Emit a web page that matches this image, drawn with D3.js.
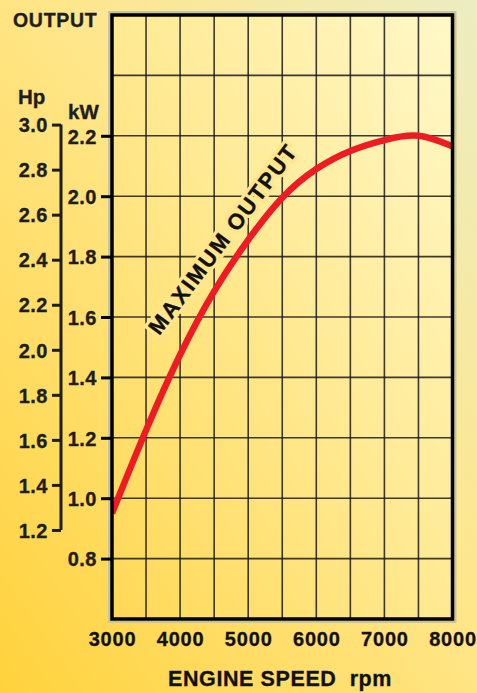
<!DOCTYPE html>
<html lang="en">
<head>
<meta charset="UTF-8">
<title>Engine Output</title>
<script src="https://d3js.org/d3.v7.min.js"></script>
<style>
  html, body { margin: 0; padding: 0; }
  body { width: 477px; height: 693px; overflow: hidden; }
  svg text { font-family: "Liberation Sans", Arial, sans-serif; font-weight: bold; fill: #1e1e1e; stroke: #1e1e1e; stroke-width: 0.35px; }
  svg text.halo { fill: #ffe68c; stroke: #ffe68c; stroke-width: 7px; }
  svg text.label { fill: #111; stroke: #111; stroke-width: 0.4px; }
</style>
</head>
<body>
<div id="chart"></div>
<script>
// engine speed (rpm) vs maximum output (kW)
const rpm = [3000, 3500, 4000, 4500, 5000, 5500, 6000, 6500, 7000, 7500, 8000];
const outputKw = [0.95, 1.225, 1.475, 1.685, 1.855, 1.995, 2.09, 2.15, 2.186, 2.20, 2.165];

const xTicks = [3000, 4000, 5000, 6000, 7000, 8000];
const kwTicks = [0.8, 1.0, 1.2, 1.4, 1.6, 1.8, 2.0, 2.2];
const hpTicks = [1.2, 1.4, 1.6, 1.8, 2.0, 2.2, 2.4, 2.6, 2.8, 3.0];
const HP_TO_KW = 0.7457;

const W = 477, H = 693;
const plot = { left: 112, right: 452.5, top: 15, bottom: 619 };

const svg = d3.select("#chart").append("svg")
  .attr("width", W).attr("height", H);

const defs = svg.append("defs");
const bg = defs.append("linearGradient").attr("id", "bg")
  .attr("x1", 0).attr("y1", 1).attr("x2", 1).attr("y2", 0);
bg.append("stop").attr("offset", 0).attr("stop-color", "#ffd23c");
bg.append("stop").attr("offset", 0.55).attr("stop-color", "#ffe68a");
bg.append("stop").attr("offset", 1).attr("stop-color", "#ebedc2");

const pg = defs.append("linearGradient").attr("id", "pg")
  .attr("x1", 0).attr("y1", 1).attr("x2", 1).attr("y2", 0);
pg.append("stop").attr("offset", 0).attr("stop-color", "#ffd855");
pg.append("stop").attr("offset", 0.55).attr("stop-color", "#ffeb98");
pg.append("stop").attr("offset", 1).attr("stop-color", "#fff8c8");

defs.append("clipPath").attr("id", "clip").append("rect")
  .attr("x", plot.left).attr("y", plot.top)
  .attr("width", plot.right - plot.left).attr("height", plot.bottom - plot.top);

svg.append("rect").attr("width", W).attr("height", H).attr("fill", "url(#bg)");

const x = d3.scaleLinear().domain([3000, 8000]).range([plot.left, plot.right]);
const y = d3.scaleLinear().domain([0.6, 2.6]).range([plot.bottom, plot.top]);

// plot background + faint shadow edge
svg.append("rect")
  .attr("x", plot.left).attr("y", plot.top)
  .attr("width", plot.right - plot.left).attr("height", plot.bottom - plot.top)
  .attr("fill", "none").attr("stroke", "#c8c49c").attr("stroke-width", 8);
svg.append("rect")
  .attr("x", plot.left).attr("y", plot.top)
  .attr("width", plot.right - plot.left).attr("height", plot.bottom - plot.top)
  .attr("fill", "url(#pg)");

// grid
const grid = svg.append("g").attr("stroke", "#1a1a1a").attr("stroke-width", 1.6).attr("stroke-opacity", 0.85);
grid.selectAll("line.v").data(d3.range(3500, 8000, 500)).join("line")
  .attr("x1", d => x(d)).attr("x2", d => x(d))
  .attr("y1", plot.top).attr("y2", plot.bottom);
grid.selectAll("line.h").data(d3.range(0.8, 2.5, 0.2)).join("line")
  .attr("x1", plot.left).attr("x2", plot.right)
  .attr("y1", d => y(d)).attr("y2", d => y(d));

// curve label: halo copy underneath, then the text itself
["halo", "label"].forEach(cls => {
  svg.append("text")
    .attr("class", cls)
    .attr("transform", "translate(223,239) rotate(-53)")
    .attr("text-anchor", "middle")
    .attr("dominant-baseline", "central")
    .attr("font-size", 22)
    .attr("letter-spacing", 2)
    .text("MAXIMUM OUTPUT");
});

// output curve
const line = d3.line().x((d, i) => x(rpm[i])).y(d => y(d)).curve(d3.curveNatural);
svg.append("path")
  .attr("clip-path", "url(#clip)")
  .attr("d", line(outputKw))
  .attr("fill", "none").attr("stroke", "#ed1c24").attr("stroke-width", 6.5);

// border
svg.append("rect")
  .attr("x", plot.left).attr("y", plot.top)
  .attr("width", plot.right - plot.left).attr("height", plot.bottom - plot.top)
  .attr("fill", "none").attr("stroke", "#000").attr("stroke-width", 3.5);

// kW axis
const kwAxis = svg.append("g")
  .attr("transform", `translate(${plot.left},0)`)
  .call(d3.axisLeft(y).tickValues(kwTicks).tickSize(11).tickPadding(4).tickFormat(d3.format(".1f")));
kwAxis.select(".domain").remove();
kwAxis.selectAll(".tick line").attr("stroke", "#000").attr("stroke-width", 3);
kwAxis.selectAll(".tick text").attr("font-size", 20).attr("font-family", null).attr("letter-spacing", 0.5)
  .attr("dy", "0.36em");

// Hp axis
const hpY = d => y(d * HP_TO_KW);
const hpScale = d3.scaleLinear().domain([1.2, 3.0]).range([hpY(1.2), hpY(3.0)]);
const hpAxis = svg.append("g")
  .attr("transform", "translate(61,0)")
  .call(d3.axisLeft(hpScale).tickValues(hpTicks).tickSize(9).tickSizeOuter(0).tickPadding(4).tickFormat(d3.format(".1f")));
hpAxis.select(".domain").attr("stroke", "#1e1e1e").attr("stroke-width", 3)
  .attr("d", `M0,${hpScale(1.2)}V${hpScale(3.0)}`);
hpAxis.selectAll(".tick line").attr("stroke", "#1e1e1e").attr("stroke-width", 3);
hpAxis.selectAll(".tick text").attr("font-size", 20).attr("font-family", null).attr("letter-spacing", 0.5)
  .attr("dy", "0.36em");

// x axis
const xAxis = svg.append("g")
  .attr("transform", `translate(0,${plot.bottom})`)
  .call(d3.axisBottom(x).tickValues(xTicks).tickSize(0).tickPadding(13).tickFormat(d3.format("d")));
xAxis.select(".domain").remove();
xAxis.selectAll(".tick text").attr("font-size", 20).attr("font-family", null).attr("letter-spacing", 0.8)
  .style("fill", "#111");

// titles
svg.append("text").attr("x", 13).attr("y", 27).attr("font-size", 19.5).attr("letter-spacing", 0.7).text("OUTPUT");
svg.append("text").attr("x", 18).attr("y", 104).attr("font-size", 20.5).text("Hp");
svg.append("text").attr("x", 68).attr("y", 119).attr("font-size", 20.5).text("kW");
svg.append("text").attr("x", 168).attr("y", 686).attr("font-size", 21.5).attr("letter-spacing", 0.6)
  .style("fill", "#111").attr("xml:space", "preserve").text("ENGINE SPEED  rpm");
</script>
</body>
</html>
